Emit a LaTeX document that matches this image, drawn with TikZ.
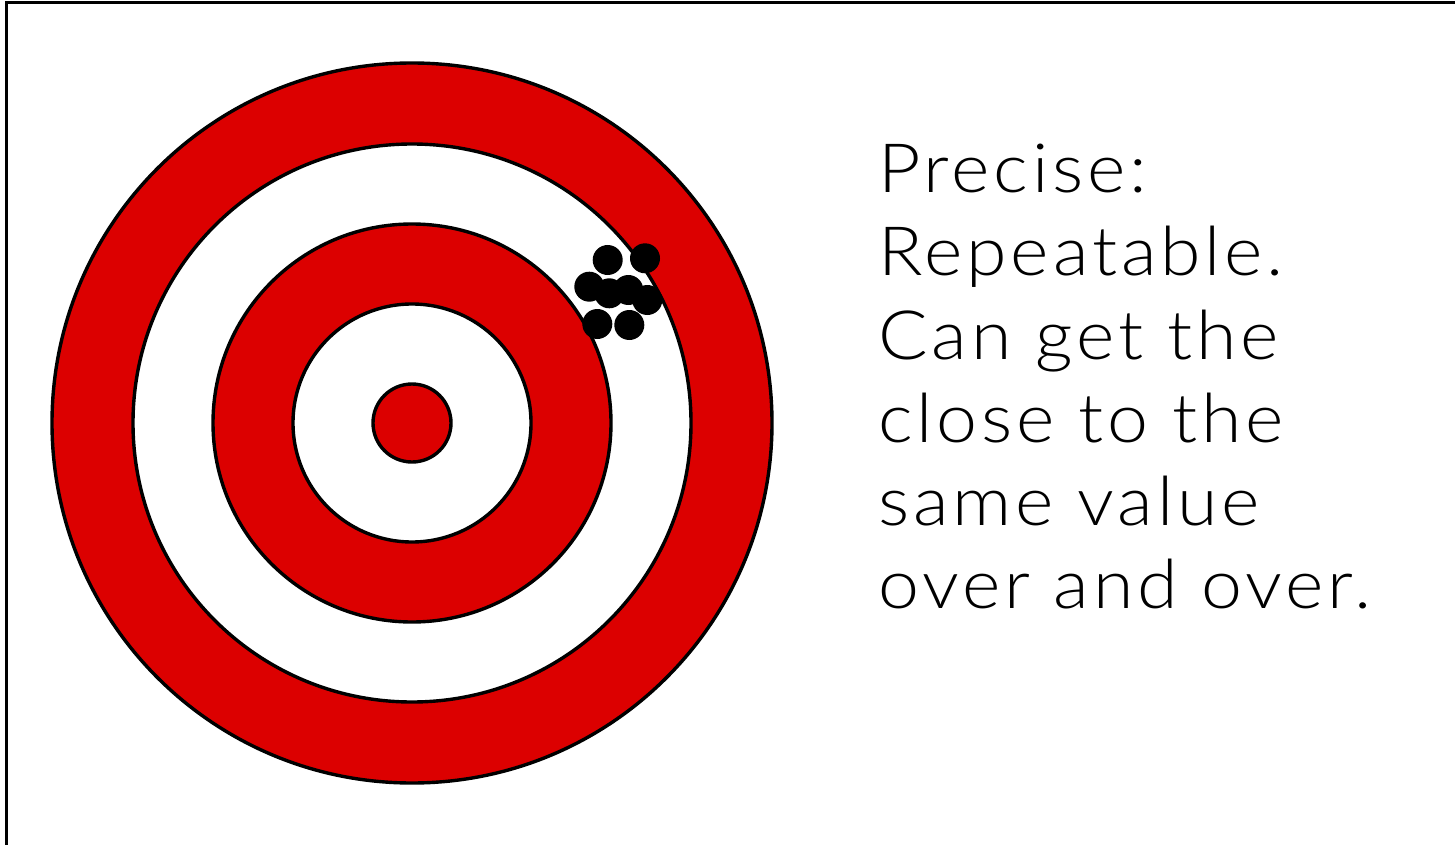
\documentclass[tikz,border=0pt]{standalone}
\usepackage{fontspec}
\setmainfont{Lato Light}[FakeStretch=1.08,LetterSpace=5.6]
\definecolor{tred}{RGB}{220,0,0}
\begin{document}
\begin{tikzpicture}[x=0.5pt,y=-0.5pt,
  ring/.style={draw=black,line width=1.7pt},
  shot/.style={circle,fill=black,inner sep=0pt,minimum size=15pt},
  txt/.style={anchor=base west,inner sep=0pt,font=\fontsize{34}{41.5}\selectfont}]
\useasboundingbox (0,0) rectangle (1455,845);
\fill[white] (0,0) rectangle (1455,845);
\draw[line width=1.5pt] (6,845) -- (6,3) -- (1455,3);
\coordinate (c) at (412,423);
\filldraw[ring,fill=tred] (c) circle[radius=180pt];
\filldraw[ring,fill=white] (c) circle[radius=139.5pt];
\filldraw[ring,fill=tred] (c) circle[radius=99.5pt];
\filldraw[ring,fill=white] (c) circle[radius=59.5pt];
\filldraw[ring,fill=tred] (c) circle[radius=19.5pt];
\node[shot] (s1) at (607.7,260) {};
\node[shot] (s2) at (645,258.3) {};
\node[shot] (s3) at (589.3,286.7) {};
\node[shot] (s4) at (609.3,293.3) {};
\node[shot] (s5) at (628.3,290) {};
\node[shot] (s6) at (647.3,300) {};
\node[shot] (s7) at (597.3,324) {};
\node[shot] (s8) at (629.3,325) {};
\node[txt] (t1) at (878,193) {Precise:};
\node[txt] (t2) at (878,276) {Repeatable.};
\node[txt] (t3) at (878,359) {Can get the};
\node[txt] (t4) at (878,442) {close to the};
\node[txt] (t5) at (878,525) {same value};
\node[txt] (t6) at (878,608) {over and over.};
\end{tikzpicture}
\end{document}
